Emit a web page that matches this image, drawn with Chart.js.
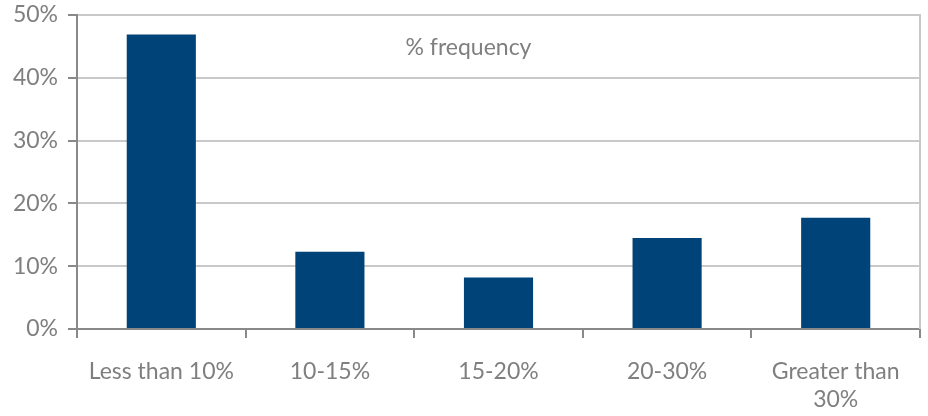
<!DOCTYPE html>
<html>
<head>
<meta charset="utf-8">
<script src="https://cdn.jsdelivr.net/npm/chart.js@4/dist/chart.umd.min.js"></script>
<style>
  html, body { margin: 0; padding: 0; background: #ffffff; }
  #wrap { width: 928px; height: 416px; position: relative; }
</style>
</head>
<body>
<div id="wrap"><canvas id="c"></canvas></div>
<script>
// Share of cases by range
const categories = ['Less than 10%', '10-15%', '15-20%', '20-30%', ['Greater than', '30%']];
const frequency = [46.9, 12.3, 8.2, 14.5, 17.7];
const seriesLabel = '% frequency';

const textGray = '#7f7f7f';
const axisGray = '#898989';
const gridGray = '#c9c9c9';
const fontFamily = 'Lato, "Open Sans", sans-serif';
const fontSize = 23;

// Draws the series caption inside the plot and the light right-hand frame line
const chartExtras = {
  id: 'chartExtras',
  afterDraw(chart) {
    const { ctx, chartArea } = chart;
    ctx.save();
    ctx.strokeStyle = gridGray;
    ctx.lineWidth = 2;
    ctx.beginPath();
    ctx.moveTo(chartArea.right, chartArea.top - 1);
    ctx.lineTo(chartArea.right, chartArea.bottom);
    ctx.stroke();
    ctx.fillStyle = textGray;
    ctx.font = fontSize + 'px ' + fontFamily;
    ctx.textAlign = 'center';
    ctx.textBaseline = 'middle';
    ctx.fillText(seriesLabel, (chartArea.left + chartArea.right) / 2 - 30, chartArea.top + 33);
    ctx.restore();
  }
};

new Chart(document.getElementById('c'), {
  type: 'bar',
  data: {
    labels: categories,
    datasets: [{
      label: seriesLabel,
      data: frequency,
      backgroundColor: '#004379',
      borderWidth: 0,
      categoryPercentage: 1,
      barPercentage: 0.41
    }]
  },
  options: {
    responsive: true,
    maintainAspectRatio: false,
    animation: false,
    layout: { padding: { top: 15, right: 8, left: 0, bottom: 0 } },
    plugins: {
      legend: { display: false },
      tooltip: { enabled: false }
    },
    scales: {
      x: {
        grid: {
          display: true,
          offset: true,
          drawOnChartArea: false,
          drawTicks: true,
          tickLength: 9,
          color: axisGray,
          lineWidth: 2
        },
        border: { display: true, color: axisGray, width: 2 },
        ticks: {
          color: textGray,
          font: { family: fontFamily, size: fontSize },
          padding: 20,
          maxRotation: 0,
          autoSkip: false
        },
        afterFit(scale) {
          scale.height = 87;
          scale.paddingLeft = 0;
          scale.paddingRight = 0;
        }
      },
      y: {
        min: 0,
        max: 50,
        ticks: {
          stepSize: 10,
          color: textGray,
          font: { family: fontFamily, size: fontSize },
          padding: 10,
          callback: v => v + '%'
        },
        grid: {
          color: gridGray,
          lineWidth: 2,
          tickColor: axisGray,
          tickLength: 9,
          drawTicks: true
        },
        border: { display: true, color: axisGray, width: 2 },
        afterFit(scale) {
          scale.width = 77;
          scale.paddingTop = 0;
          scale.paddingBottom = 0;
        }
      }
    }
  },
  plugins: [chartExtras]
});
</script>
</body>
</html>
